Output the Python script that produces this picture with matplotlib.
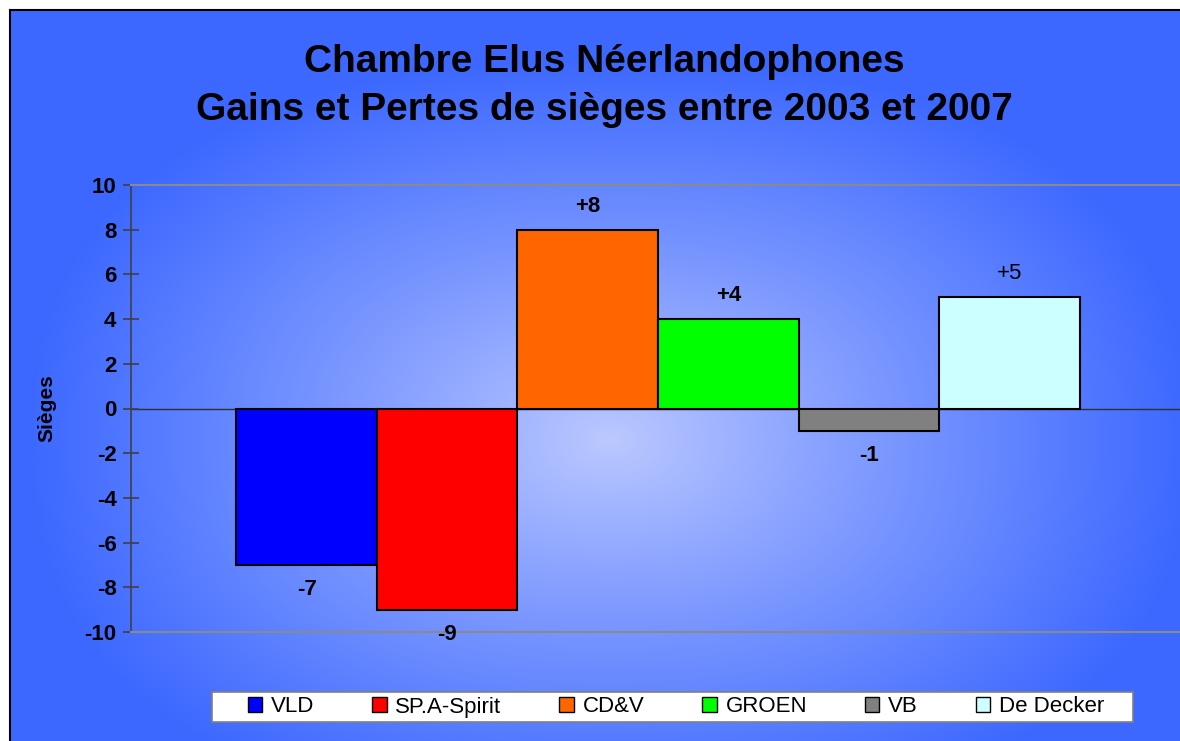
import numpy as np
import matplotlib.pyplot as plt
from matplotlib.patches import Patch, Rectangle

# Données
partis = ["VLD", "SP.A-Spirit", "CD&V", "GROEN", "VB", "De Decker"]
sieges = [-7, -9, 8, 4, -1, 5]
etiquettes = ["-7", "-9", "+8", "+4", "-1", "+5"]
couleurs = ["#0000FF", "#FF0000", "#FF6600", "#00FF00", "#808080", "#CCFFFF"]
graisses = ["bold", "bold", "bold", "bold", "bold", "normal"]
graduations = [-10, -8, -6, -4, -2, 0, 2, 4, 6, 8, 10]

W, H = 1180, 741
plt.rcParams["font.family"] = ["Liberation Sans", "DejaVu Sans"]
plt.rcParams["axes.unicode_minus"] = False
fig = plt.figure(figsize=(W / 100, H / 100), dpi=100)
fig.patch.set_facecolor("white")

# Fond en dégradé radial (clair au centre, bleu sur les bords)
bg = fig.add_axes([10 / W, 0, 1 - 10 / W, 1 - 10 / H])
px = np.linspace(10, W, 600)
py = np.linspace(10, H, 400)
xx, yy = np.meshgrid(px, py)
dx = (xx - 610) / 580
dy = (yy - 440) / 380
d = (np.abs(dx) ** 2.4 + np.abs(dy) ** 2.4) ** (1 / 2.4)
t = np.clip(d, 0, 1) ** 0.9
clair = np.array([0.74, 0.79, 1.0])
fonce = np.array([0.24, 0.41, 1.0])
img = clair[None, None, :] + (fonce - clair)[None, None, :] * t[..., None]
bg.imshow(img, extent=[0, 1, 0, 1], origin="upper", aspect="auto")
bg.set_xlim(0, 1)
bg.set_ylim(0, 1)
bg.set_xticks([])
bg.set_yticks([])
for s in ["right", "bottom"]:
    bg.spines[s].set_visible(False)
for s in ["left", "top"]:
    bg.spines[s].set_linewidth(1.5)

# Axes principaux
ax = fig.add_axes([131 / W, 1 - 632 / H, (1185 - 131) / W, (632 - 185) / H])
ax.patch.set_alpha(0)
x = np.arange(len(partis))
ax.axhline(0, color="#303030", lw=1, zorder=1)
ax.bar(x, sieges, width=1, color=couleurs, edgecolor="black", lw=1.5, zorder=2)
ax.set_xlim(-1.25, 6.25)
ax.set_ylim(-10, 10)
ax.set_yticks(graduations)
ax.set_xticks([])
ax.tick_params(axis="y", direction="inout", length=11, width=1.2, color="#404040",
               labelsize=16, pad=5)
for lab in ax.get_yticklabels():
    lab.set_fontweight("bold")
ax.spines["right"].set_visible(False)
ax.spines["left"].set_color("#404040")
ax.spines["left"].set_linewidth(1.2)
for s in ["top", "bottom"]:
    ax.spines[s].set_color("#8a8a8a")
    ax.spines[s].set_linewidth(1.5)
ax.set_ylabel("Sièges", fontsize=15, fontweight="bold", labelpad=20)

for xi, v, lab, fw in zip(x, sieges, etiquettes, graisses):
    off = 17 if v > 0 else -18
    ax.annotate(lab, (xi, v), xytext=(0, off), textcoords="offset points",
                ha="center", va="center", fontsize=16, fontweight=fw)

fig.text(604 / W, 1 - 62 / H, "Chambre Elus Néerlandophones", ha="center", va="center",
         fontsize=28, fontweight="bold")
fig.text(604 / W, 1 - 110 / H, "Gains et Pertes de sièges entre 2003 et 2007", ha="center",
         va="center", fontsize=28, fontweight="bold")

# Légende (cadre blanc dessiné à part)
fig.patches.append(Rectangle((212 / W, 1 - 722 / H), (1133 - 212) / W, 30 / H,
                             transform=fig.transFigure, facecolor="white",
                             edgecolor="#808080", lw=1.2, zorder=5))
poignees = [Patch(facecolor=c, edgecolor="black", lw=1) for c in couleurs]
leg = fig.legend(poignees, partis, loc="center", bbox_to_anchor=(676 / W, 1 - 707 / H),
                 ncol=6, fontsize=16, frameon=False,
                 handlelength=0.65, handleheight=0.65, handletextpad=0.4, columnspacing=2.6)
leg.set_zorder(6)

fig.savefig("out.png", dpi=100)
